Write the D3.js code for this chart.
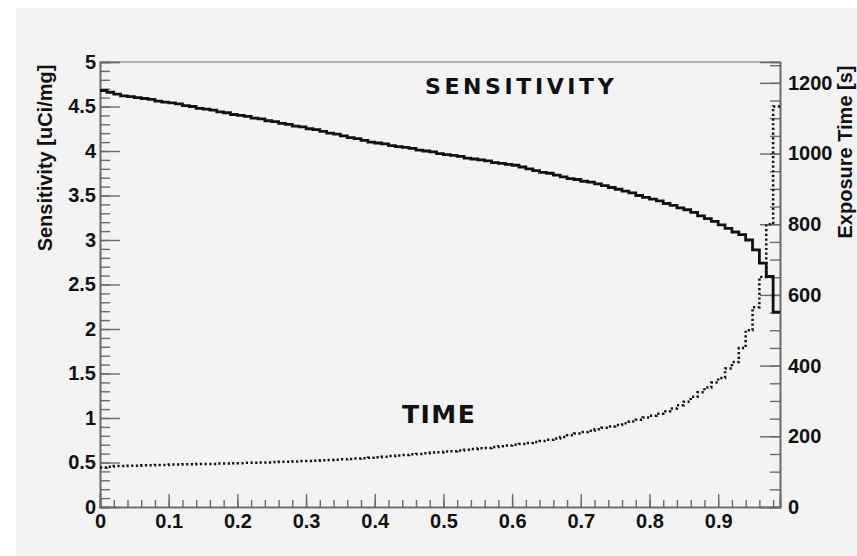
<!DOCTYPE html>
<html>
<head>
<meta charset="utf-8">
<script src="https://cdn.jsdelivr.net/npm/d3@7/dist/d3.min.js"></script>
<style>
  html, body { margin: 0; padding: 0; background: #ffffff; }
  svg { display: block; }
  .tick text { font-family: "Liberation Sans", Arial, sans-serif; font-weight: bold; fill: #111; }
</style>
</head>
<body>
<svg id="chart" width="857" height="556"></svg>
<script>
// Histogram bins: lower edges 0.00 ... 0.98, width 0.01
const binWidth = 0.01;
const binEdges = d3.range(99).map(i => +(i * binWidth).toFixed(2));

// Sensitivity [uCi/mg] per bin
const sensitivity = [
  4.68, 4.66, 4.64, 4.62, 4.61, 4.60, 4.59, 4.58, 4.56, 4.55,
  4.54, 4.53, 4.51, 4.50, 4.48, 4.47, 4.46, 4.44, 4.43, 4.41,
  4.40, 4.39, 4.37, 4.36, 4.34, 4.33, 4.31, 4.30, 4.28, 4.27,
  4.25, 4.24, 4.22, 4.20, 4.19, 4.17, 4.15, 4.14, 4.12, 4.10,
  4.09, 4.08, 4.06, 4.05, 4.04, 4.03, 4.01, 4.00, 3.99, 3.97,
  3.96, 3.95, 3.94, 3.92, 3.91, 3.90, 3.89, 3.87, 3.86, 3.85,
  3.84, 3.82, 3.80, 3.78, 3.76, 3.75, 3.73, 3.71, 3.69, 3.68,
  3.66, 3.65, 3.63, 3.61, 3.59, 3.57, 3.55, 3.53, 3.50, 3.48,
  3.46, 3.44, 3.41, 3.39, 3.36, 3.34, 3.31, 3.27, 3.24, 3.21,
  3.17, 3.13, 3.09, 3.06, 3.00, 2.89, 2.74, 2.59, 2.19
];

// Exposure time [s] per bin
const exposureTime = [
  112, 114, 116, 116, 117, 117, 118, 118, 119, 119,
  120, 120, 121, 121, 122, 122, 122, 123, 123, 124,
  124, 125, 125, 126, 126, 127, 128, 128, 129, 130,
  130, 131, 132, 133, 134, 135, 136, 137, 138, 139,
  141, 142, 144, 146, 147, 149, 150, 152, 154, 155,
  157, 158, 160, 162, 164, 166, 167, 170, 172, 174,
  176, 178, 181, 184, 187, 190, 194, 198, 203, 208,
  212, 216, 220, 224, 228, 232, 237, 242, 247, 253,
  258, 264, 271, 279, 288, 298, 312, 325, 338, 352,
  365, 392, 410, 450, 500, 565, 651, 800, 1133
];

// Axis ticks
const xMajorTicks = d3.range(10).map(i => +(i * 0.1).toFixed(1));
const xMinorTicks = d3.range(50).map(i => +(i * 0.02).toFixed(2));
const xTickLabels = ["0", "0.1", "0.2", "0.3", "0.4", "0.5", "0.6", "0.7", "0.8", "0.9"];
const leftMajorTicks = d3.range(11).map(i => +(i * 0.5).toFixed(1));
const leftMinorTicks = d3.range(51).map(i => +(i * 0.1).toFixed(1));
const leftTickLabels = ["0", "0.5", "1", "1.5", "2", "2.5", "3", "3.5", "4", "4.5", "5"];
const rightMajorTicks = [0, 200, 400, 600, 800, 1000, 1200];
const rightMinorTicks = d3.range(26).map(i => i * 50);
const rightTickLabels = ["0", "200", "400", "600", "800", "1000", "1200"];

const plot = { left: 100, right: 780, top: 62, bottom: 507 };

const svg = d3.select("#chart");

// Canvas fill
svg.append("rect").attr("x", 0).attr("y", 0).attr("width", 857).attr("height", 556).attr("fill", "#ffffff");
svg.append("rect").attr("x", 16).attr("y", 8).attr("width", 841).attr("height", 548).attr("fill", "#f3f3f3");

const x = d3.scaleLinear().domain([0, 0.99]).range([plot.left, plot.right]);
const yL = d3.scaleLinear().domain([0, 5]).range([plot.bottom, plot.top]);
const yR = d3.scaleLinear().domain([0, 1259]).range([plot.bottom, plot.top]);

const axisColor = "#6a6a6a";

function styleAxis(g) {
  g.select(".domain").attr("stroke", axisColor).attr("stroke-width", 1.6);
  g.selectAll(".tick line").attr("stroke", axisColor).attr("stroke-width", 1.4);
}

// Top frame line
svg.append("line")
  .attr("x1", plot.left).attr("x2", plot.right)
  .attr("y1", plot.top).attr("y2", plot.top)
  .attr("stroke", "#9a9a9a").attr("stroke-width", 1.4);

// X axis: minor ticks, major ticks, labels
svg.append("g").attr("transform", `translate(0,${plot.bottom})`)
  .call(d3.axisTop(x).tickValues(xMinorTicks).tickSize(7).tickFormat(""))
  .call(styleAxis);
svg.append("g").attr("transform", `translate(0,${plot.bottom})`)
  .call(d3.axisTop(x).tickValues(xMajorTicks).tickSize(13).tickFormat(""))
  .call(styleAxis);
svg.append("g").attr("transform", `translate(0,${plot.bottom})`)
  .call(d3.axisBottom(x).tickValues(xMajorTicks).tickSize(0).tickPadding(7)
    .tickFormat((d, i) => xTickLabels[i]))
  .call(g => g.select(".domain").remove())
  .call(g => g.selectAll("text").attr("font-size", 20));

// Left axis (sensitivity)
svg.append("g").attr("transform", `translate(${plot.left},0)`)
  .call(d3.axisRight(yL).tickValues(leftMinorTicks).tickSize(10).tickFormat(""))
  .call(styleAxis);
svg.append("g").attr("transform", `translate(${plot.left},0)`)
  .call(d3.axisRight(yL).tickValues(leftMajorTicks).tickSize(20).tickFormat(""))
  .call(styleAxis);
svg.append("g").attr("transform", `translate(${plot.left},0)`)
  .call(d3.axisLeft(yL).tickValues(leftMajorTicks).tickSize(0).tickPadding(4)
    .tickFormat((d, i) => leftTickLabels[i]))
  .call(g => g.select(".domain").remove())
  .call(g => g.selectAll("text").attr("font-size", 20));

// Right axis (exposure time)
svg.append("g").attr("transform", `translate(${plot.right},0)`)
  .call(d3.axisLeft(yR).tickValues(rightMinorTicks).tickSize(10).tickFormat(""))
  .call(styleAxis);
svg.append("g").attr("transform", `translate(${plot.right},0)`)
  .call(d3.axisLeft(yR).tickValues(rightMajorTicks).tickSize(20).tickFormat(""))
  .call(styleAxis);
svg.append("g").attr("transform", `translate(${plot.right},0)`)
  .call(d3.axisRight(yR).tickValues(rightMajorTicks).tickSize(0).tickPadding(8)
    .tickFormat((d, i) => rightTickLabels[i]))
  .call(g => g.select(".domain").remove())
  .call(g => g.selectAll("text").attr("font-size", 20));

// Step outlines for the two histograms
function stepPoints(values) {
  const pts = values.map((v, i) => [binEdges[i], v]);
  pts.push([binEdges[values.length - 1] + binWidth, values[values.length - 1]]);
  return pts;
}

const sensLine = d3.line().x(d => x(d[0])).y(d => yL(d[1])).curve(d3.curveStepAfter);
const timeLine = d3.line().x(d => x(d[0])).y(d => yR(d[1])).curve(d3.curveStepAfter);

svg.append("path")
  .datum(stepPoints(exposureTime))
  .attr("d", timeLine)
  .attr("fill", "none")
  .attr("stroke", "#111")
  .attr("stroke-width", 2.5)
  .attr("stroke-dasharray", "2.2,2.5");

svg.append("path")
  .datum(stepPoints(sensitivity))
  .attr("d", sensLine)
  .attr("fill", "none")
  .attr("stroke", "#111")
  .attr("stroke-width", 2.8);

// Axis titles
svg.append("text")
  .attr("transform", "translate(52,158) rotate(-90)")
  .attr("text-anchor", "middle")
  .attr("font-family", "Liberation Sans, Arial, sans-serif")
  .attr("font-weight", "bold")
  .attr("font-size", 20)
  .attr("fill", "#111")
  .text("Sensitivity [uCi/mg]");

svg.append("text")
  .attr("transform", "translate(852,152) rotate(-90)")
  .attr("text-anchor", "middle")
  .attr("font-family", "Liberation Sans, Arial, sans-serif")
  .attr("font-weight", "bold")
  .attr("font-size", 20)
  .attr("fill", "#111")
  .text("Exposure Time [s]");

// Curve labels
svg.append("text")
  .attr("x", 425).attr("y", 94)
  .attr("font-family", "DejaVu Sans, sans-serif")
  .attr("font-weight", "bold")
  .attr("font-size", 22)
  .attr("letter-spacing", 3.6)
  .attr("fill", "#111")
  .text("SENSITIVITY");

svg.append("text")
  .attr("x", 402).attr("y", 423)
  .attr("font-family", "DejaVu Sans, sans-serif")
  .attr("font-weight", "bold")
  .attr("font-size", 25)
  .attr("letter-spacing", 1.5)
  .attr("fill", "#111")
  .text("TIME");
</script>
</body>
</html>
